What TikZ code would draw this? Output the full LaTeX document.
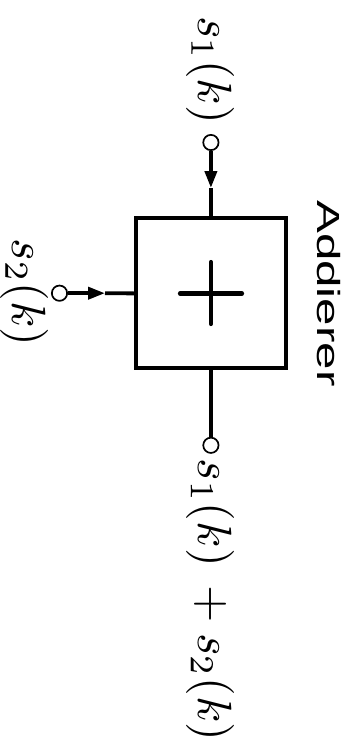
\documentclass[tikz,border=0pt]{standalone}
\usepackage{fontspec}
\newfontfamily\addfont{Liberation Sans}
\usetikzlibrary{arrows.meta}
\tikzset{
  conn/.style={line width=3.8pt},
  arr/.style={conn,-{Triangle[length=17pt,width=12pt]}},
  term/.style={circle,draw,line width=1.7pt,inner sep=0pt,minimum size=15.3pt,fill=white},
  sumbox/.style={draw,line width=4pt,minimum size=150pt,inner sep=0pt},
  mlabel/.style={rotate=-90,inner sep=0pt},
  plusbar/.style={line width=4.2pt,line cap=round}
}
\newcommand{\bigmath}[1]{\scalebox{4.8}{$#1$}}
\begin{document}
\begin{tikzpicture}[x=1pt,y=-1pt]
\useasboundingbox (0,0) rectangle (357,749);
\node[sumbox] (box) at (210.9,293.4) {};
\coordinate (pl) at (180,293.4);
\coordinate (pr) at (242,293.4);
\coordinate (pt) at (210.9,262);
\coordinate (pb) at (210.9,324);
\draw[plusbar] (pl) -- (pr);
\draw[plusbar] (pt) -- (pb);
\node[term] (c1) at (210.9,142.5) {};
\node[term] (c2) at (59.5,293.2) {};
\node[term] (c3) at (210.9,445.3) {};
\coordinate (a1) at (210.9,188);
\coordinate (a2) at (105,293.2);
\draw[arr] (c1) -- (a1);
\draw[conn] (a1) -- (box.north);
\draw[arr] (c2) -- (a2);
\draw[conn] (a2) -- (box.west);
\draw[conn] (box.south) -- (c3);
\node[mlabel] (l1) at (210.5,70) {\bigmath{s_1(k)}};
\node[mlabel] (l2) at (24.5,292.5) {\bigmath{s_2(k)}};
\node[mlabel] (l3) at (210,600) {\bigmath{s_1(k)\mkern7mu{+}\mkern4mu s_2(k)}};
\node[rotate=-90,inner sep=0pt,anchor=base west,font=\addfont\fontsize{32}{36}\selectfont] (name) at (317,200) {\scalebox{1.54}[1]{Addierer}};
\end{tikzpicture}
\end{document}
